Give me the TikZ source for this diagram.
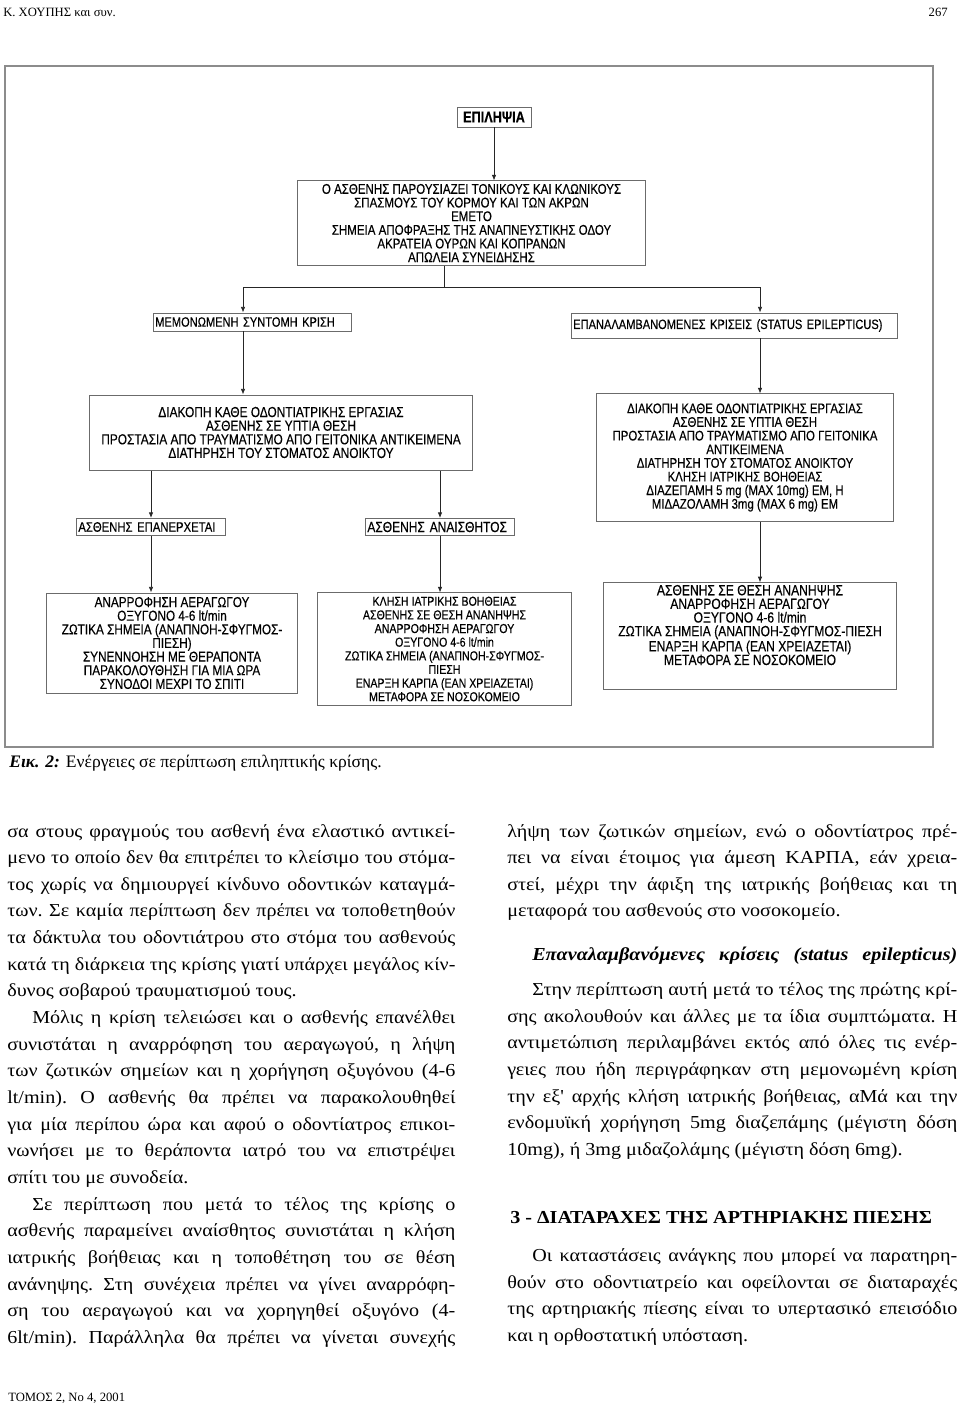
\documentclass[tikz,border=0pt]{standalone}
\usepackage{fontspec}
\usepackage{graphicx}
\setmainfont{Liberation Serif}
\newfontfamily\bodyfam[FakeStretch=1.1]{Liberation Serif}
\newfontfamily\chartfont[FakeStretch=0.82,FakeBold=0.3]{Liberation Sans}
\usetikzlibrary{arrows.meta}
\definecolor{framec}{gray}{0.55}
\definecolor{boxc}{gray}{0.42}
\newlength{\pind}\setlength{\pind}{17.8pt}
\newsavebox{\lnbox}
\newcommand{\jl}[1]{\sbox{\lnbox}{#1}%
  \ifdim\wd\lnbox>\linewidth\hbox{\resizebox{\linewidth}{\height}{\usebox{\lnbox}}}%
  \else\hbox to \linewidth{#1}\fi}
\newcommand{\el}[1]{\hbox to \linewidth{#1\hfil}}
\newcommand{\bodyfont}{\bodyfam\fontsize{13}{18.96}\selectfont\frenchspacing}
\newcommand{\cf}[1]{\chartfont\fontsize{#1}{9.7}\selectfont}

\begin{document}
\begin{tikzpicture}[
  x=0.025cm, y=-0.025cm,
  bx/.style ={draw=boxc, line width=0.7pt, inner sep=1.5pt, align=center, font=\cf{10}},
  lb/.style ={bx, align=left, inner xsep=1pt},
  hd/.style ={bx, font=\chartfont\fontsize{11}{12}\selectfont\bfseries},
  txt/.style={anchor=base west, inner sep=0pt},
  ln/.style ={black!85, line width=0.5pt},
  ar/.style ={ln, -{Latex[length=1.4mm,width=1.1mm]}}
]
\fill[white] (0,0) rectangle (960,1406);

% ---------- page head ----------
\node[txt, font=\fontsize{9}{11}\selectfont] (auth) at (3,17) {Κ. ΧΟΥΠΗΣ και συν.};
\node[anchor=base east, inner sep=0pt, font=\fontsize{9}{11}\selectfont] (pg) at (948,17) {267};

% ---------- figure frame ----------
\draw[framec, line width=1pt] (5,66) rectangle (933,747);

\node[hd, minimum width=1.85cm, minimum height=0.5cm] (epi) at (494,117) {ΕΠΙΛΗΨΙΑ};
\node[bx, minimum width=8.675cm, minimum height=2.1cm] (sym) at (471.5,223)
  {Ο ΑΣΘΕΝΗΣ ΠΑΡΟΥΣΙΑΖΕΙ ΤΟΝΙΚΟΥΣ ΚΑΙ ΚΛΩΝΙΚΟΥΣ\\
   ΣΠΑΣΜΟΥΣ ΤΟΥ ΚΟΡΜΟΥ ΚΑΙ ΤΩΝ ΑΚΡΩΝ\\
   ΕΜΕΤΟ\\
   ΣΗΜΕΙΑ ΑΠΟΦΡΑΞΗΣ ΤΗΣ ΑΝΑΠΝΕΥΣΤΙΚΗΣ ΟΔΟΥ\\
   ΑΚΡΑΤΕΙΑ ΟΥΡΩΝ ΚΑΙ ΚΟΠΡΑΝΩΝ\\
   ΑΠΩΛΕΙΑ ΣΥΝΕΙΔΗΣΗΣ};
\node[lb, font=\cf{9.6}, text width=4.86cm, minimum height=0.45cm] (iso) at (252.5,322)
  {ΜΕΜΟΝΩΜΕΝΗ ΣΥΝΤΟΜΗ ΚΡΙΣΗ};
\node[lb, font=\cf{9.6}, text width=8.06cm, minimum height=0.625cm] (rep) at (734.5,325.5)
  {ΕΠΑΝΑΛΑΜΒΑΝΟΜΕΝΕΣ ΚΡΙΣΕΙΣ (STATUS EPILEPTICUS)};

% ---------- left branch ----------
\node[bx, font=\cf{10.3}, minimum width=9.55cm, minimum height=1.875cm] (actL) at (281,432.5)
  {ΔΙΑΚΟΠΗ ΚΑΘΕ ΟΔΟΝΤΙΑΤΡΙΚΗΣ ΕΡΓΑΣΙΑΣ\\
   ΑΣΘΕΝΗΣ ΣΕ ΥΠΤΙΑ ΘΕΣΗ\\
   ΠΡΟΣΤΑΣΙΑ ΑΠΟ ΤΡΑΥΜΑΤΙΣΜΟ ΑΠΟ ΓΕΙΤΟΝΙΚΑ ΑΝΤΙΚΕΙΜΕΝΑ\\
   ΔΙΑΤΗΡΗΣΗ ΤΟΥ ΣΤΟΜΑΤΟΣ ΑΝΟΙΚΤΟΥ};
\node[lb, font=\cf{9.8}, text width=3.63cm, minimum height=0.425cm] (rec) at (151,527)
  {ΑΣΘΕΝΗΣ ΕΠΑΝΕΡΧΕΤΑΙ};
\node[lb, font=\cf{10.4}, text width=3.63cm, minimum height=0.425cm] (unc) at (440,527)
  {ΑΣΘΕΝΗΣ ΑΝΑΙΣΘΗΤΟΣ};
\node[bx, font=\cf{10.2}, minimum width=6.25cm, minimum height=2.5cm] (recC) at (172,643)
  {ΑΝΑΡΡΟΦΗΣΗ ΑΕΡΑΓΩΓΟΥ\\
   ΟΞΥΓΟΝΟ 4-6 lt/min\\
   ΖΩΤΙΚΑ ΣΗΜΕΙΑ (ΑΝΑΠΝΟΗ-ΣΦΥΓΜΟΣ-\\
   ΠΙΕΣΗ)\\
   ΣΥΝΕΝΝΟΗΣΗ ΜΕ ΘΕΡΑΠΟΝΤΑ\\
   ΠΑΡΑΚΟΛΟΥΘΗΣΗ ΓΙΑ ΜΙΑ ΩΡΑ\\
   ΣΥΝΟΔΟΙ ΜΕΧΡΙ ΤΟ ΣΠΙΤΙ};
\node[bx, font=\cf{9.2}, minimum width=6.325cm, minimum height=2.8cm] (uncC) at (444.5,649)
  {ΚΛΗΣΗ ΙΑΤΡΙΚΗΣ ΒΟΗΘΕΙΑΣ\\
   ΑΣΘΕΝΗΣ ΣΕ ΘΕΣΗ ΑΝΑΝΗΨΗΣ\\
   ΑΝΑΡΡΟΦΗΣΗ ΑΕΡΑΓΩΓΟΥ\\
   ΟΞΥΓΟΝΟ 4-6 lt/min\\
   ΖΩΤΙΚΑ ΣΗΜΕΙΑ (ΑΝΑΠΝΟΗ-ΣΦΥΓΜΟΣ-\\
   ΠΙΕΣΗ\\
   ΕΝΑΡΞΗ ΚΑΡΠΑ (ΕΑΝ ΧΡΕΙΑΖΕΤΑΙ)\\
   ΜΕΤΑΦΟΡΑ ΣΕ ΝΟΣΟΚΟΜΕΙΟ};

% ---------- right branch ----------
\node[bx, font=\cf{9.9}, minimum width=7.4cm, minimum height=3.175cm] (actR) at (745,457.5)
  {ΔΙΑΚΟΠΗ ΚΑΘΕ ΟΔΟΝΤΙΑΤΡΙΚΗΣ ΕΡΓΑΣΙΑΣ\\
   ΑΣΘΕΝΗΣ ΣΕ ΥΠΤΙΑ ΘΕΣΗ\\
   ΠΡΟΣΤΑΣΙΑ ΑΠΟ ΤΡΑΥΜΑΤΙΣΜΟ ΑΠΟ ΓΕΙΤΟΝΙΚΑ\\
   ΑΝΤΙΚΕΙΜΕΝΑ\\
   ΔΙΑΤΗΡΗΣΗ ΤΟΥ ΣΤΟΜΑΤΟΣ ΑΝΟΙΚΤΟΥ\\
   ΚΛΗΣΗ ΙΑΤΡΙΚΗΣ ΒΟΗΘΕΙΑΣ\\
   ΔΙΑΖΕΠΑΜΗ 5 mg (MAX 10mg) ΕΜ, Η\\
   ΜΙΔΑΖΟΛΑΜΗ 3mg (MAX 6 mg) ΕΜ};
\node[bx, font=\cf{10.5}, minimum width=7.3cm, minimum height=2.45cm] (repC) at (750,636)
  {ΑΣΘΕΝΗΣ ΣΕ ΘΕΣΗ ΑΝΑΝΗΨΗΣ\\
   ΑΝΑΡΡΟΦΗΣΗ ΑΕΡΑΓΩΓΟΥ\\
   ΟΞΥΓΟΝΟ 4-6 lt/min\\
   ΖΩΤΙΚΑ ΣΗΜΕΙΑ (ΑΝΑΠΝΟΗ-ΣΦΥΓΜΟΣ-ΠΙΕΣΗ\\
   ΕΝΑΡΞΗ ΚΑΡΠΑ (ΕΑΝ ΧΡΕΙΑΖΕΤΑΙ)\\
   ΜΕΤΑΦΟΡΑ ΣΕ ΝΟΣΟΚΟΜΕΙΟ\\[6pt]};

% ---------- connectors ----------
\coordinate (bus)  at (444,287);
\coordinate (busL) at (243,287);
\coordinate (busR) at (760,287);
\draw[ar] (epi.south) -- (epi.south |- sym.north);
\draw[ln] (bus |- sym.south) -- (bus);
\draw[ln] (busL) -- (busR);
\draw[ar] (busL) -- (busL |- iso.north);
\draw[ar] (busR) -- (busR |- rep.north);
\draw[ar] (busL |- iso.south) -- (busL |- actL.north);
\draw[ar] (busR |- rep.south) -- (busR |- actR.north);
\draw[ar] (rec.north |- actL.south) -- (rec.north);
\draw[ar] (unc.north |- actL.south) -- (unc.north);
\draw[ar] (rec.south) -- (rec.south |- recC.north);
\draw[ar] (unc.south) -- (unc.south |- uncC.north);
\draw[ar] (busR |- actR.south) -- (busR |- repC.north);

% ---------- caption ----------
\node[txt, font=\fontsize{12.5}{15}\selectfont] (cap) at (9,767)
  {\textbf{\textit{Εικ. 2:}} Ενέργειες σε περίπτωση επιληπτικής κρίσης.};

% ---------- left column ----------
\node[txt] (colL) at (7,837) {\begin{minipage}[t]{11.2cm}\bodyfont
\jl{σα στους φραγμούς του ασθενή ένα ελαστικό αντικεί-}
\jl{μενο το οποίο δεν θα επιτρέπει το κλείσιμο του στόμα-}
\jl{τος χωρίς να δημιουργεί κίνδυνο οδοντικών καταγμά-}
\jl{των. Σε καμία περίπτωση δεν πρέπει να τοποθετηθούν}
\jl{τα δάκτυλα του οδοντιάτρου στο στόμα του ασθενούς}
\jl{κατά τη διάρκεια της κρίσης γιατί υπάρχει μεγάλος κίν-}
\el{δυνος σοβαρού τραυματισμού τους.}
\jl{\hspace*{\pind}Μόλις η κρίση τελειώσει και ο ασθενής επανέλθει}
\jl{συνιστάται η αναρρόφηση του αεραγωγού, η λήψη}
\jl{των ζωτικών σημείων και η χορήγηση οξυγόνου (4-6}
\jl{lt/min). Ο ασθενής θα πρέπει να παρακολουθηθεί}
\jl{για μία περίπου ώρα και αφού ο οδοντίατρος επικοι-}
\jl{νωνήσει με το θεράποντα ιατρό του να επιστρέψει}
\el{σπίτι του με συνοδεία.}
\jl{\hspace*{\pind}Σε περίπτωση που μετά το τέλος της κρίσης ο}
\jl{ασθενής παραμείνει αναίσθητος συνιστάται η κλήση}
\jl{ιατρικής βοήθειας και η τοποθέτηση του σε θέση}
\jl{ανάνηψης. Στη συνέχεια πρέπει να γίνει αναρρόφη-}
\jl{ση του αεραγωγού και να χορηγηθεί οξυγόνο (4-}
\jl{6lt/min). Παράλληλα θα πρέπει να γίνεται συνεχής}
\end{minipage}};

% ---------- right column ----------
\node[txt] (colR) at (507,837) {\begin{minipage}[t]{11.25cm}\bodyfont
\jl{λήψη των ζωτικών σημείων, ενώ ο οδοντίατρος πρέ-}
\jl{πει να είναι έτοιμος για άμεση ΚΑΡΠΑ, εάν χρεια-}
\jl{στεί, μέχρι την άφιξη της ιατρικής βοήθειας και τη}
\el{μεταφορά του ασθενούς στο νοσοκομείο.}
\end{minipage}};
\node[txt] (hdR) at (507,960) {\begin{minipage}[t]{11.25cm}\bodyfont\bfseries\itshape
\jl{\hspace*{\pind}Επαναλαμβανόμενες κρίσεις (status epilepticus)}
\end{minipage}};
\node[txt] (colR2) at (507,995.5) {\begin{minipage}[t]{11.25cm}\bodyfont
\jl{\hspace*{\pind}Στην περίπτωση αυτή μετά το τέλος της πρώτης κρί-}
\jl{σης ακολουθούν και άλλες με τα ίδια συμπτώματα. Η}
\jl{αντιμετώπιση περιλαμβάνει εκτός από όλες τις ενέρ-}
\jl{γειες που ήδη περιγράφηκαν στη μεμονωμένη κρίση}
\jl{την εξ' αρχής κλήση ιατρικής βοήθειας, αΜά και την}
\jl{ενδομυϊκή χορήγηση 5mg διαζεπάμης (μέγιστη δόση}
\el{10mg), ή 3mg μιδαζολάμης (μέγιστη δόση 6mg).}
\end{minipage}};
\node[txt, font=\bodyfam\fontsize{13}{15}\selectfont\bfseries] (hd3) at (510,1223)
  {3 - ΔΙΑΤΑΡΑΧΕΣ ΤΗΣ ΑΡΤΗΡΙΑΚΗΣ ΠΙΕΣΗΣ};
\node[txt] (colR3) at (507,1261.5) {\begin{minipage}[t]{11.25cm}\bodyfont
\jl{\hspace*{\pind}Οι καταστάσεις ανάγκης που μπορεί να παρατηρη-}
\jl{θούν στο οδοντιατρείο και οφείλονται σε διαταραχές}
\jl{της αρτηριακής πίεσης είναι το υπερτασικό επεισόδιο}
\el{και η ορθοστατική υπόσταση.}
\end{minipage}};

% ---------- page foot ----------
\node[txt, font=\fontsize{9}{11}\selectfont] (foot) at (8,1401) {ΤΟΜΟΣ 2, Νο 4, 2001};
\end{tikzpicture}
\end{document}
